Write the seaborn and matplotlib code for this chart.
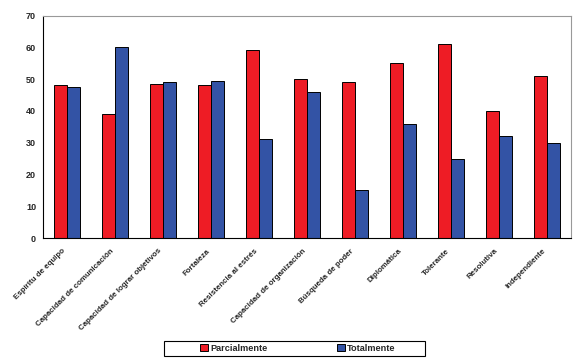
import matplotlib
matplotlib.use("Agg")
import matplotlib.pyplot as plt
import matplotlib.patches as mpatches
import seaborn as sns
import pandas as pd

categories = ["Espíritu de equipo", "Capacidad de comunicación", "Capacidad de lograr objetivos",
              "Fortaleza", "Resistencia al estrés", "Capacidad de organización", "Búsqueda de poder",
              "Diplomática", "Tolerante", "Resolutiva", "Independiente"]
parcialmente = [48, 39, 48.5, 48, 59, 50, 49, 55, 61, 40, 51]
totalmente = [47.5, 60, 49, 49.5, 31, 46, 15, 36, 25, 32, 30]
series = ["Parcialmente", "Totalmente"]
yticks = [0, 10, 20, 30, 40, 50, 60, 70]

df = pd.DataFrame({
    "cat": categories * 2,
    "serie": [series[0]] * len(categories) + [series[1]] * len(categories),
    "val": parcialmente + totalmente,
})

sns.set_style("white")
plt.rcParams['font.family'] = ['Liberation Sans', 'DejaVu Sans']

fig = plt.figure(figsize=(5.8, 3.6), dpi=100)
ax = fig.add_axes([43/580, 1-238/360, (571-43)/580, (238-15.5)/360])

sns.barplot(data=df, x="cat", y="val", hue="serie", order=categories, hue_order=series,
            palette=["#EE1C25", "#3353A5"], saturation=1, width=0.56, edgecolor="black",
            linewidth=0.7, ax=ax, legend=True)

ax.set_ylim(0, 70)
ax.set_xlim(-0.5, len(categories) - 0.5)
ax.set_yticks(yticks)
ax.set_yticklabels([str(t) for t in yticks], fontsize=6.5, fontweight="bold")
ax.set_xlabel("")
ax.set_ylabel("")
ax.set_xticks([i - 0.5 for i in range(len(categories) + 1)], minor=False)
ax.set_xticklabels([""] * (len(categories) + 1))
ax.tick_params(axis="x", direction="out", length=3, width=0.7, colors="black")
ax.tick_params(axis="y", direction="out", length=3, width=0.7, pad=2)
for i, c in enumerate(categories):
    ax.text(i - 0.1, -3.0, c, rotation=45, ha="right", va="top", rotation_mode="anchor",
            fontsize=5.7, fontweight="bold")

for s in ["left", "bottom"]:
    ax.spines[s].set_color("black")
    ax.spines[s].set_linewidth(0.8)
for s in ["top", "right"]:
    ax.spines[s].set_color("#999999")
    ax.spines[s].set_linewidth(0.8)

leg = ax.get_legend()
handles = leg.legend_handles
leg.remove()
box = mpatches.Rectangle((164/580, 1-356/360), (425-164)/580, 15/360, transform=fig.transFigure,
                         facecolor="white", edgecolor="black", linewidth=0.8)
fig.patches.append(box)
lg = fig.legend(handles, series, loc="center", bbox_to_anchor=(298/580, 1-348.5/360),
                ncol=2, frameon=False, prop={"weight": "bold", "size": 6.6},
                handlelength=0.8, handleheight=0.8, handletextpad=0.3, columnspacing=7.6,
                borderpad=0.2, borderaxespad=0)

fig.savefig("out.png", dpi=100)
